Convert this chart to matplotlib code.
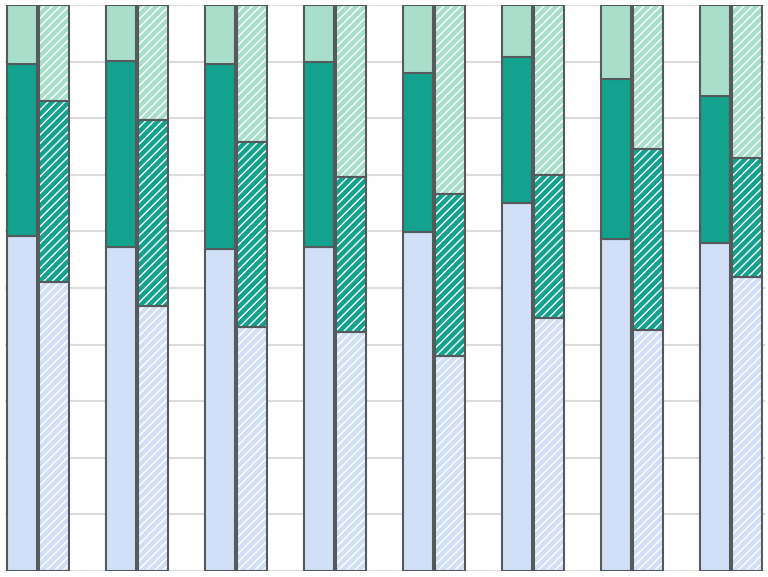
import matplotlib.pyplot as plt
import numpy as np

plt.rcParams['hatch.linewidth'] = 1.0

# percentage shares, three stacked segments per bar
groups = ['G1', 'G2', 'G3', 'G4', 'G5', 'G6', 'G7', 'G8']
solid_low = [59.2, 57.2, 56.9, 57.2, 59.9, 65.0, 58.7, 58.0]
solid_mid = [30.4, 32.9, 32.7, 32.7, 28.1, 25.8, 28.2, 26.0]
solid_top = [10.4, 9.9, 10.4, 10.1, 12.0, 9.2, 13.1, 16.0]
hatch_low = [51.1, 46.8, 43.1, 42.2, 38.0, 44.7, 42.6, 52.0]
hatch_mid = [31.9, 32.9, 32.7, 27.4, 28.6, 25.3, 32.0, 20.9]
hatch_top = [17.0, 20.3, 24.2, 30.4, 33.4, 30.0, 25.4, 27.1]

colors = ['#d2e0f7', '#12a28d', '#a9decb']
edge = '#555a5c'

fig = plt.figure(figsize=(7.68, 5.77), dpi=100)
ax = fig.add_axes([5 / 768, 6 / 577, 760 / 768, 566 / 577])

x = np.arange(len(groups))
w = 0.3
off = 0.16

bottom = np.zeros(len(groups))
for vals, c in zip([solid_low, solid_mid, solid_top], colors):
    ax.bar(x - off, vals, w, bottom=bottom, color=c, edgecolor=edge,
           linewidth=1.5, zorder=3)
    bottom += np.array(vals)

bottom = np.zeros(len(groups))
for vals, c in zip([hatch_low, hatch_mid, hatch_top], colors):
    # white stripes over the fill colour, outline drawn separately
    ax.bar(x + off, vals, w, bottom=bottom, color=c, edgecolor='white',
           linewidth=0, hatch='////', zorder=3)
    ax.bar(x + off, vals, w, bottom=bottom, fill=False, edgecolor=edge,
           linewidth=1.5, zorder=4)
    bottom += np.array(vals)

ax.set_xlim(-0.335, 7.345)
ax.set_ylim(0, 100)
ax.set_yticks(np.arange(0, 101, 10))
ax.grid(axis='y', color='#dcdcdc', linewidth=1.5, zorder=0)
ax.tick_params(left=False, bottom=False, labelleft=False, labelbottom=False)
for s in ax.spines.values():
    s.set_visible(False)

fig.savefig('out.png', dpi=100)
